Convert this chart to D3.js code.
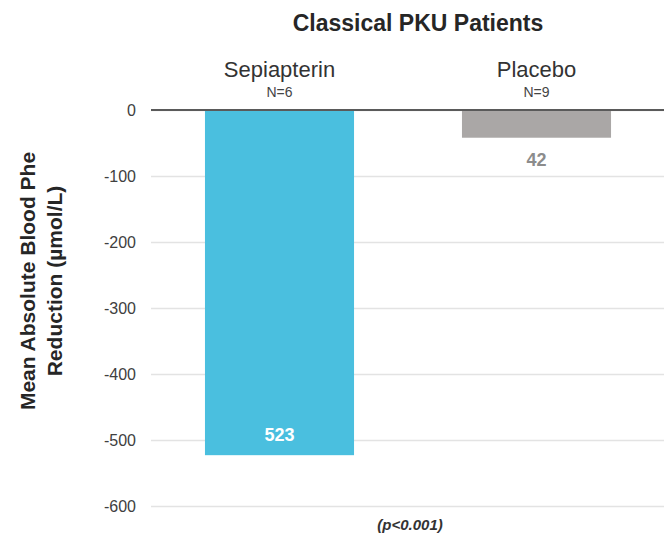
<!DOCTYPE html>
<html>
<head>
<meta charset="utf-8">
<script src="https://cdn.jsdelivr.net/npm/d3@7"></script>
<style>
  html, body { margin: 0; padding: 0; background: #fff; }
  svg { display: block; font-family: "Liberation Sans", Arial, Helvetica, sans-serif; }
</style>
</head>
<body>
<svg id="chart" width="664" height="543"></svg>
<script>
// Mean absolute blood Phe reduction, classical PKU patients
const groups = ["Sepiapterin", "Placebo"];
const groupN = ["N=6", "N=9"];
const reductions = [-523, -42];
const barColors = ["#4abfdf", "#aaa7a6"];
const yTicks = [0, -100, -200, -300, -400, -500, -600];

const svg = d3.select("#chart");

const x = d3.scaleBand()
  .domain(groups)
  .range([151, 665])
  .paddingInner(0.42)
  .paddingOuter(0.21);

const y = d3.scaleLinear()
  .domain([0, -600])
  .range([110, 506]);

// horizontal gridlines and tick labels (plain hyphen for negatives)
const yAxis = d3.axisLeft(y)
  .tickValues(yTicks)
  .tickSize(-(664 - 151))
  .tickPadding(15)
  .tickFormat(d => String(d));

const gAxis = svg.append("g")
  .attr("transform", "translate(151,0)")
  .call(yAxis);
gAxis.select(".domain").remove();
gAxis.selectAll(".tick line")
  .attr("stroke", "#e3e3e3")
  .attr("stroke-width", 1.5);
gAxis.selectAll(".tick text")
  .attr("fill", "#404040")
  .attr("font-size", 16)
  .attr("x", -15);

// bars
svg.append("g").selectAll("rect")
  .data(groups)
  .join("rect")
  .attr("x", d => x(d))
  .attr("width", x.bandwidth())
  .attr("y", (d, i) => y(0))
  .attr("height", (d, i) => y(reductions[i]) - y(0))
  .attr("fill", (d, i) => barColors[i]);

// zero baseline
svg.append("line")
  .attr("x1", 151).attr("x2", 664)
  .attr("y1", y(0)).attr("y2", y(0))
  .attr("stroke", "#5a5a5a")
  .attr("stroke-width", 2);

// group names and sample sizes above the chart
const cx = d => x(d) + x.bandwidth() / 2;
svg.append("g").selectAll("text")
  .data(groups)
  .join("text")
  .attr("x", cx)
  .attr("y", 77)
  .attr("text-anchor", "middle")
  .attr("font-size", 22)
  .attr("fill", "#333")
  .text(d => d);

svg.append("g").selectAll("text")
  .data(groups)
  .join("text")
  .attr("x", cx)
  .attr("y", 97)
  .attr("text-anchor", "middle")
  .attr("font-size", 14)
  .attr("fill", "#444")
  .text((d, i) => groupN[i]);

// value labels: inside the long bar, below the short one
svg.append("text")
  .attr("x", cx(groups[0]))
  .attr("y", y(reductions[0]) - 14)
  .attr("text-anchor", "middle")
  .attr("font-size", 18)
  .attr("font-weight", "bold")
  .attr("fill", "#fff")
  .text(String(-reductions[0]));

svg.append("text")
  .attr("x", cx(groups[1]))
  .attr("y", y(reductions[1]) + 28)
  .attr("text-anchor", "middle")
  .attr("font-size", 18)
  .attr("font-weight", "bold")
  .attr("fill", "#8c8c8c")
  .text(String(-reductions[1]));

// title
svg.append("text")
  .attr("x", 418)
  .attr("y", 31)
  .attr("text-anchor", "middle")
  .attr("font-size", 23)
  .attr("font-weight", "bold")
  .attr("fill", "#262626")
  .text("Classical PKU Patients");

// y-axis title, two lines
const yTitle = svg.append("text")
  .attr("transform", "translate(35,281) rotate(-90)")
  .attr("text-anchor", "middle")
  .attr("font-size", 21)
  .attr("font-weight", "bold")
  .attr("fill", "#262626");
yTitle.append("tspan").attr("x", 0).attr("y", 0).text("Mean Absolute Blood Phe");
yTitle.append("tspan").attr("x", 0).attr("y", 27).text("Reduction (µmol/L)");

// significance note
svg.append("text")
  .attr("x", 410)
  .attr("y", 530)
  .attr("text-anchor", "middle")
  .attr("font-size", 15)
  .attr("font-weight", "bold")
  .attr("font-style", "italic")
  .attr("fill", "#333")
  .text("(p<0.001)");
</script>
</body>
</html>
